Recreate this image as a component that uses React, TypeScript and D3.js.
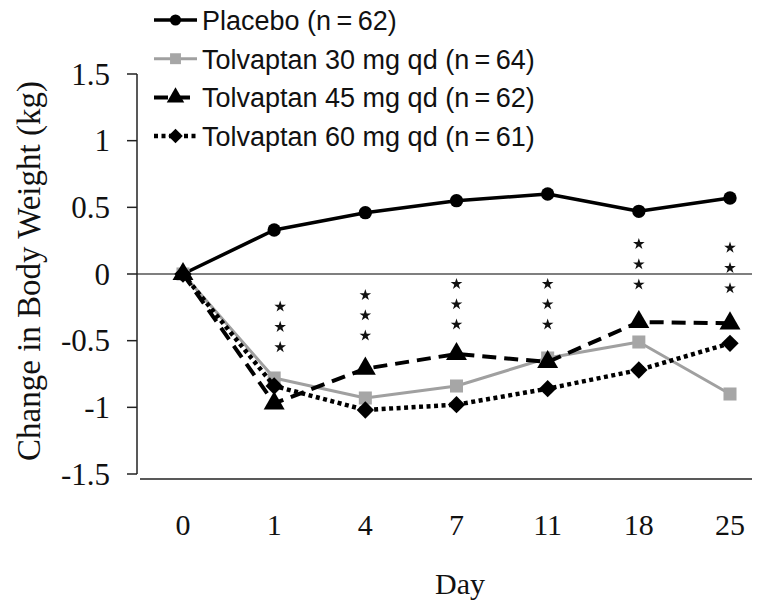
import React from "react";
import * as d3 from "d3";

const days = ["0", "1", "4", "7", "11", "18", "25"];
const placebo = [0, 0.33, 0.46, 0.55, 0.6, 0.47, 0.57];
const tolv30 = [0, -0.78, -0.93, -0.84, -0.63, -0.51, -0.9];
const tolv45 = [0, -0.97, -0.71, -0.6, -0.66, -0.36, -0.37];
const tolv60 = [0, -0.84, -1.02, -0.98, -0.86, -0.72, -0.52];
const yTicks = [1.5, 1, 0.5, 0, -0.5, -1, -1.5];
const starDays = ["1", "4", "7", "11", "18", "25"];
const starTopY = [-0.245, -0.158, -0.075, -0.075, 0.225, 0.197];
const legendLabels = [
  "Placebo (n\u2009=\u200962)",
  "Tolvaptan 30 mg qd (n\u2009=\u200964)",
  "Tolvaptan 45 mg qd (n\u2009=\u200962)",
  "Tolvaptan 60 mg qd (n\u2009=\u200961)",
];

type Series = {
  values: number[];
  color: string;
  markColor: string;
  width: number;
  dash?: string;
  symbol: d3.SymbolType;
  size: number;
  rotate: number;
};

const series: Series[] = [
  { values: placebo, color: "#000", markColor: "#000", width: 3.5, symbol: d3.symbolCircle, size: 140, rotate: 0 },
  { values: tolv30, color: "#a0a0a0", markColor: "#a6a6a6", width: 3, symbol: d3.symbolSquare, size: 170, rotate: 0 },
  { values: tolv45, color: "#000", markColor: "#000", width: 4, dash: "14 8", symbol: d3.symbolTriangle, size: 190, rotate: 0 },
  { values: tolv60, color: "#000", markColor: "#000", width: 4.5, dash: "4 3.5", symbol: d3.symbolSquare, size: 150, rotate: 45 },
];

export default function App() {
  const W = 767;
  const H = 600;
  const x = d3.scalePoint<string>().domain(days).range([183, 730]);
  const y = d3.scaleLinear().domain([-1.5, 1.5]).range([474, 74]);
  const axisX = 137;
  const line = d3
    .line<number>()
    .x((_, i) => x(days[i]) as number)
    .y((d) => y(d));
  const star = d3.symbol().type(d3.symbolStar).size(42)();
  const serif = "'Liberation Serif', 'Times New Roman', serif";
  const sans = "'Liberation Sans', Arial, sans-serif";

  return (
    <svg
      width={W}
      height={H}
      style={{ position: "absolute", left: 0, top: 0, background: "#fff" }}
    >
      <line x1={axisX} x2={752} y1={y(0)} y2={y(0)} stroke="#555" strokeWidth={1.5} />
      <line x1={axisX} x2={axisX} y1={y(1.5)} y2={y(-1.5)} stroke="#222" strokeWidth={1.5} />
      {yTicks.map((t) => (
        <g key={t}>
          <line x1={axisX - 10} x2={axisX} y1={y(t)} y2={y(t)} stroke="#222" strokeWidth={1.5} />
          <text
            x={110}
            y={y(t)}
            textAnchor="end"
            dominantBaseline="central"
            fontFamily={serif}
            fontSize={31}
            fill="#111"
          >
            {t}
          </text>
        </g>
      ))}
      <line x1={140} x2={752} y1={479} y2={479} stroke="#222" strokeWidth={1.5} />
      {days.map((d) => (
        <text
          key={d}
          x={x(d)}
          y={524}
          textAnchor="middle"
          dominantBaseline="central"
          fontFamily={serif}
          fontSize={30}
          fill="#111"
        >
          {d}
        </text>
      ))}
      <text x={460} y={583} textAnchor="middle" dominantBaseline="central" fontFamily={serif} fontSize={30} fill="#111">
        Day
      </text>
      <text
        transform={`translate(29,271) rotate(-90)`}
        textAnchor="middle"
        dominantBaseline="central"
        fontFamily={serif}
        fontSize={33}
        fill="#111"
      >
        Change in Body Weight (kg)
      </text>
      {starDays.map((d, i) =>
        [0, 1, 2].map((k) => (
          <path
            key={d + k}
            d={star as string}
            transform={`translate(${(x(d) as number) + (i === 0 ? 6 : 0)},${y(starTopY[i] - k * 0.152)})`}
            fill="#111"
          />
        ))
      )}
      {series.map((s, si) => (
        <g key={si}>
          <path
            d={line(s.values) as string}
            fill="none"
            stroke={s.color}
            strokeWidth={s.width}
            strokeDasharray={s.dash}
            strokeLinejoin="round"
          />
          {s.values.map((v, i) => (
            <path
              key={i}
              d={d3.symbol().type(s.symbol).size(s.size)() as string}
              transform={`translate(${x(days[i])},${y(v)}) rotate(${s.rotate})`}
              fill={s.markColor}
            />
          ))}
        </g>
      ))}
      {series.map((s, si) => {
        const ly = 20 + si * 38.7;
        return (
          <g key={"lg" + si}>
            <line
              x1={154}
              x2={197}
              y1={ly}
              y2={ly}
              stroke={s.color}
              strokeWidth={s.width}
              strokeDasharray={s.dash}
            />
            <path
              d={d3.symbol().type(s.symbol).size(s.size * 0.7)() as string}
              transform={`translate(175.5,${ly}) rotate(${s.rotate})`}
              fill={s.markColor}
            />
            <text
              x={202}
              y={ly + 1}
              dominantBaseline="central"
              fontFamily={sans}
              fontSize={27}
              fill="#111"
            >
              {legendLabels[si]}
            </text>
          </g>
        );
      })}
    </svg>
  );
}
